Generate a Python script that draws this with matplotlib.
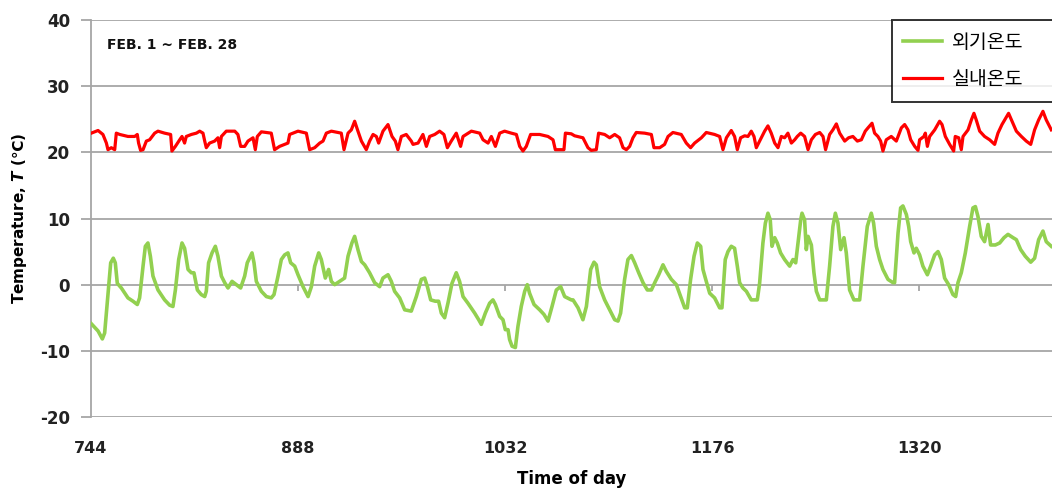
import matplotlib
matplotlib.use("Agg")
import matplotlib.pyplot as plt

# hours (Feb 1 .. Feb 28, hour of year) and temperatures
out_hour = [744.2, 748.9, 751.9, 753.5, 756.3, 757.7, 759.5, 760.9, 762.3, 765.1, 769.7, 773.2,
            776.2, 777.8, 780.2, 781.8, 783.6, 785.3, 787.1, 790.6, 795.2, 798.7, 801.0, 802.7,
            805.0, 807.3, 809.1, 811.5, 813.8, 815.6, 818.0, 820.7, 823.1, 824.2, 825.8, 828.2,
            830.5, 832.3, 834.7, 837.0, 839.3, 842.1, 845.1, 848.1, 850.9, 852.7, 856.0, 857.4,
            859.0, 862.5, 866.0, 869.4, 871.3, 874.1, 876.4, 878.7, 881.0, 882.9, 885.7, 888.0,
            891.5, 895.0, 897.3, 899.6, 902.4, 904.2, 907.0, 909.3, 911.2, 913.5, 917.0, 920.4,
            922.8, 925.5, 927.4, 929.7, 932.1, 934.4, 937.8, 941.3, 944.8, 947.1, 950.6, 952.9,
            955.2, 958.7, 962.2, 966.8, 970.3, 973.8, 976.1, 978.0, 980.3, 983.5, 985.8, 987.7,
            990.0, 992.3, 995.1, 998.1, 1000.4, 1002.8, 1006.2, 1010.9, 1013.7, 1015.5, 1018.3,
            1021.3, 1023.6, 1025.3, 1028.3, 1030.6, 1032.2, 1034.1, 1035.2, 1036.9, 1039.2,
            1041.0, 1043.3, 1045.7, 1047.5, 1049.1, 1052.2, 1056.1, 1059.1, 1061.9, 1064.7,
            1067.7, 1070.7, 1073.5, 1078.1, 1079.3, 1082.8, 1086.2, 1088.6, 1091.6, 1093.9,
            1095.5, 1097.8, 1101.3, 1104.8, 1108.3, 1110.6, 1112.4, 1115.2, 1117.5, 1119.9,
            1122.2, 1125.0, 1128.0, 1131.0, 1133.8, 1136.6, 1138.9, 1141.9, 1144.2, 1147.7,
            1151.2, 1154.2, 1157.0, 1158.8, 1161.1, 1163.5, 1165.8, 1168.1, 1169.7, 1172.0,
            1174.4, 1177.8, 1181.3, 1182.9, 1185.2, 1187.1, 1189.4, 1191.7, 1193.6, 1195.2,
            1197.5, 1199.9, 1203.3, 1207.5, 1209.1, 1211.4, 1213.1, 1214.9, 1216.5, 1217.7,
            1219.6, 1221.4, 1223.7, 1226.5, 1230.0, 1232.3, 1234.2, 1235.8, 1237.7, 1238.6,
            1240.4, 1241.6, 1242.8, 1245.1, 1246.9, 1248.6, 1250.9, 1255.5, 1257.8, 1260.1,
            1261.8, 1263.6, 1265.5, 1267.8, 1269.4, 1271.7, 1274.7, 1278.7, 1281.0, 1284.0,
            1286.8, 1288.4, 1290.3, 1292.6, 1294.9, 1298.4, 1301.9, 1303.0, 1305.4, 1307.2,
            1308.8, 1311.2, 1312.8, 1314.2, 1316.5, 1318.1, 1320.4, 1322.7, 1325.8, 1328.1,
            1330.9, 1333.2, 1335.5, 1337.8, 1340.6, 1343.6, 1345.5, 1347.1, 1349.4, 1352.2,
            1355.2, 1357.5, 1359.2, 1361.0, 1363.3, 1365.6, 1368.0, 1369.8, 1373.1, 1376.1,
            1379.1, 1381.9, 1385.4, 1387.7, 1390.7, 1393.9, 1397.7, 1400.4, 1403.2, 1406.2,
            1408.5, 1412.0]
out_temp = [-5.9, -7.0, -8.2, -7.3, -0.3, 3.3, 4.0, 3.3, 0.2, -0.5, -2.0, -2.5,
            -3.0, -2.0, 2.8, 5.8, 6.3, 4.3, 1.3, -0.8, -2.3, -3.1, -3.3, -0.8,
            3.8, 6.3, 5.5, 2.3, 1.8, 1.8, -0.8, -1.5, -1.8, -1.0, 3.3, 4.8,
            5.8, 4.3, 1.3, 0.3, -0.5, 0.5, 0.0, -0.5, 1.3, 3.3, 4.8, 3.3,
            0.5, -1.0, -1.8, -2.0, -1.5, 1.3, 3.8, 4.5, 4.8, 3.3, 2.8, 1.5,
            -0.3, -1.8, -0.3, 2.8, 4.8, 3.8, 1.0, 2.3, 0.5, 0.0, 0.5, 1.0,
            4.3, 6.3, 7.3, 5.3, 3.5, 3.0, 1.8, 0.3, -0.3, 1.0, 1.5, 0.5,
            -1.0, -2.0, -3.8, -4.0, -1.8, 0.8, 1.0, -0.3, -2.3, -2.5, -2.5, -4.3,
            -5.0, -2.8, 0.2, 1.8, 0.5, -1.8, -2.8, -4.3, -5.3, -6.0, -4.3,
            -2.8, -2.3, -3.0, -4.8, -5.3, -6.8, -6.8, -8.3, -9.3, -9.5,
            -6.3, -3.3, -1.0, 0.0, -1.3, -3.0, -3.8, -4.5, -5.5, -3.3,
            -0.8, -0.3, -1.8, -2.3, -2.3, -3.5, -5.3, -3.3, 2.3, 3.4,
            3.0, -0.3, -2.3, -3.8, -5.3, -5.5, -4.3, 0.8, 3.8, 4.4,
            3.3, 1.8, 0.3, -0.8, -0.8, 0.5, 1.5, 3.0, 2.0, 0.8,
            0.0, -1.8, -3.5, -3.5, 0.8, 4.3, 6.3, 5.8, 2.3, 0.5,
            -1.3, -2.0, -3.5, -3.5, 3.8, 5.0, 5.8, 5.5, 2.8, 0.3,
            -0.5, -1.0, -2.3, -2.3, 0.2, 6.3, 9.3, 10.8, 9.8, 5.8,
            7.1, 6.3, 4.8, 3.8, 2.8, 3.8, 3.3, 6.3, 9.8, 10.8,
            9.8, 5.3, 7.3, 6.0, 1.8, -1.0, -2.3, -2.3, 2.8, 8.8,
            10.8, 9.3, 5.3, 7.1, 4.8, -0.8, -2.3, -2.3, 2.8, 8.8,
            10.8, 9.3, 5.8, 3.8, 2.3, 0.8, 0.3, 0.3, 7.8, 11.6,
            11.9, 10.6, 8.8, 6.5, 4.8, 5.5, 4.5, 2.8, 1.5, 2.8,
            4.5, 5.0, 3.8, 1.0, 0.0, -1.5, -1.8, 0.3, 1.8, 4.8,
            8.8, 11.6, 11.8, 10.3, 7.3, 6.5, 9.1, 6.0, 6.0, 6.3,
            7.1, 7.6, 7.1, 6.8, 5.3, 4.3, 3.4, 4.0, 6.8, 8.1,
            6.5, 5.8]

in_hour = [744.2, 748.9, 752.3, 754.7, 755.8, 758.1, 760.5, 761.6, 764.0, 769.7, 774.4, 776.2,
           777.1, 778.5, 780.2, 782.5, 784.8, 788.3, 790.6, 795.2, 799.4, 800.3, 802.7, 805.7,
           807.3, 809.1, 810.3, 813.8, 817.3, 819.6, 821.9, 823.1, 824.2, 826.5, 830.0, 832.3,
           833.5, 834.7, 838.1, 844.0, 846.2, 848.1, 850.9, 853.2, 856.7, 858.3, 859.7, 862.5,
           869.4, 871.7, 875.2, 878.7, 881.0, 882.2, 888.0, 893.8, 896.1, 899.6, 903.1, 905.4,
           907.7, 911.2, 918.1, 920.0, 922.8, 925.1, 927.4, 929.7, 932.1, 935.5, 937.8, 940.2,
           942.5, 944.1, 947.1, 950.6, 953.4, 955.7, 957.5, 959.9, 963.3, 966.8, 968.0, 971.5,
           974.9, 977.3, 979.6, 983.1, 986.5, 989.5, 991.9, 994.6, 998.1, 1001.1, 1002.8,
           1008.6, 1014.4, 1016.7, 1020.2, 1022.5, 1025.3, 1028.3, 1031.7, 1036.4, 1039.9,
           1042.2, 1044.5, 1046.8, 1049.8, 1056.1, 1061.9, 1065.4, 1067.0, 1070.0, 1073.0,
           1074.0, 1078.1, 1080.4, 1086.2, 1089.7, 1092.0, 1095.5, 1097.1, 1101.3, 1104.8,
           1108.3, 1111.7, 1114.1, 1116.4, 1118.7, 1121.0, 1123.3, 1129.1, 1133.8, 1135.6,
           1139.6, 1143.0, 1145.4, 1148.8, 1154.6, 1158.1, 1161.1, 1163.9, 1168.6, 1172.0,
           1177.8, 1181.3, 1183.6, 1186.0, 1189.4, 1191.7, 1193.6, 1195.9, 1198.7, 1201.0,
           1203.3, 1205.2, 1206.8, 1210.3, 1212.6, 1214.9, 1217.2, 1219.6, 1221.9, 1224.2,
           1226.5, 1228.8, 1231.2, 1233.5, 1235.3, 1237.7, 1240.4, 1242.8, 1245.1, 1247.9,
           1250.9, 1253.2, 1255.0, 1257.8, 1260.1, 1262.5, 1264.8, 1268.3, 1271.0, 1274.0,
           1277.1, 1279.9, 1282.6, 1284.5, 1287.3, 1289.1, 1291.4, 1293.3, 1294.9, 1297.2,
           1300.7, 1304.2, 1307.7, 1310.0, 1312.3, 1314.2, 1317.0, 1319.3, 1320.4, 1323.4,
           1324.4, 1325.8, 1327.4, 1330.9, 1334.3, 1336.0, 1338.3, 1341.3, 1344.1, 1345.2,
           1347.6, 1349.4, 1350.6, 1354.1, 1356.4, 1358.2, 1359.8, 1362.2, 1365.6, 1369.1,
           1372.6, 1374.9, 1377.7, 1382.3, 1384.7, 1387.7, 1391.2, 1394.6, 1397.7, 1400.4,
           1403.2, 1406.2, 1408.5, 1412.0]
in_temp = [22.9, 23.3, 22.7, 21.4, 20.4, 20.7, 20.4, 22.9, 22.7, 22.4, 22.4, 22.7,
           21.4, 20.3, 20.4, 21.7, 21.9, 22.9, 23.2, 22.9, 22.7, 20.2, 20.9, 21.9,
           22.4, 21.4, 22.4, 22.7, 22.9, 23.2, 22.9, 21.7, 20.7, 21.4, 21.7, 22.2,
           20.7, 22.4, 23.2, 23.2, 22.7, 20.9, 20.9, 21.7, 22.2, 20.4, 22.4, 23.1,
           22.9, 20.4, 20.9, 21.2, 21.4, 22.7, 23.2, 22.9, 20.4, 20.7, 21.4, 21.7,
           22.9, 23.2, 22.9, 20.4, 22.9, 23.4, 24.7, 23.2, 21.7, 20.4, 21.7, 22.7,
           22.4, 21.4, 23.2, 24.2, 22.4, 21.7, 20.4, 22.4, 22.7, 21.7, 21.2, 21.4,
           22.7, 20.9, 22.4, 22.7, 23.2, 22.7, 20.7, 21.7, 22.9, 20.9, 22.4,
           23.2, 22.9, 21.9, 21.4, 22.4, 20.9, 22.9, 23.2, 22.9, 22.7,
           20.9, 20.2, 20.9, 22.7, 22.7, 22.4, 21.9, 20.4, 20.4, 20.4,
           22.9, 22.8, 22.5, 22.2, 20.7, 20.3, 20.4, 22.9, 22.7, 22.2,
           22.7, 22.2, 20.7, 20.4, 20.9, 22.2, 23.0, 22.9, 22.7, 20.7,
           20.7, 21.2, 22.4, 23.0, 22.7, 21.4, 20.7, 21.4, 22.2, 23.0,
           22.7, 22.4, 20.4, 22.2, 23.3, 22.4, 20.4, 22.2, 22.5, 22.4,
           23.2, 22.4, 20.7, 22.2, 23.2, 24.0, 22.9, 21.4, 20.7, 22.4,
           22.2, 22.9, 21.4, 21.9, 22.4, 22.9, 22.4, 20.4, 21.9, 22.7,
           23.0, 22.4, 20.4, 22.7, 23.4, 24.3, 22.9, 21.7, 22.2, 22.4,
           21.7, 21.9, 23.2, 23.7, 24.4, 22.9, 22.4, 21.7, 20.2, 21.9,
           22.4, 21.7, 23.7, 24.2, 23.4, 21.9, 20.9, 20.3, 21.9, 22.4,
           22.9, 20.9, 22.4, 23.4, 24.7, 24.2, 22.4, 21.2, 20.2, 22.4,
           22.2, 20.4, 22.4, 23.4, 24.9, 25.9, 24.9, 23.2, 22.4, 21.9,
           21.2, 22.9, 24.2, 25.9, 24.7, 23.2, 22.4, 21.7, 21.2, 23.4,
           24.9, 26.2, 24.9, 23.4]

x_ticks = [744, 888, 1032, 1176, 1320]
y_ticks = [-20, -10, 0, 10, 20, 30, 40]
labels = ["외기온도", "실내온도"]

plt.rcParams["font.family"] = ["DejaVu Sans", "Noto Sans CJK KR"]
plt.rcParams["axes.unicode_minus"] = False
plt.rcParams["mathtext.fontset"] = "custom"
plt.rcParams["mathtext.it"] = "DejaVu Sans:italic:bold"

fig = plt.figure(figsize=(10.52, 4.93), dpi=100)
ax = fig.add_axes([91 / 1052, 76 / 493, 961 / 1052, 397 / 493])

grid_c = "#a6a6a6"
ax.plot(out_hour, out_temp, color="#92d050", lw=2.6, label=labels[0], zorder=3)
ax.plot(in_hour, in_temp, color="#ff0000", lw=2.3, label=labels[1], zorder=3)

ax.set_xlim(744, 1412.5)
ax.set_ylim(-20, 40)
ax.set_yticks(y_ticks)
ax.set_xticks(x_ticks)
for y in y_ticks:
    ax.axhline(y, color=grid_c, lw=1.3, zorder=1)
# horizontal axis crosses at 0 with small tick marks
ax.vlines(x_ticks[1:], -0.9, 0, color=grid_c, lw=1.3, zorder=1)

for s in ["top", "right", "bottom"]:
    ax.spines[s].set_visible(False)
ax.spines["left"].set_color(grid_c)
ax.spines["left"].set_linewidth(1.3)
ax.tick_params(axis="y", direction="out", length=7, width=1.3, color=grid_c, pad=8,
               labelsize=12)
ax.tick_params(axis="x", length=0, pad=17, labelsize=11.5)
for t in ax.get_xticklabels() + ax.get_yticklabels():
    t.set_fontweight("bold")
    t.set_color("#222222")

ax.set_ylabel("Temperature, $T$ (℃)", fontsize=11, fontweight="bold", labelpad=8)
ax.set_xlabel("Time of day", fontsize=12, fontweight="bold", labelpad=10)

ax.text(0.017, 0.937, "FEB. 1 ~ FEB. 28", transform=ax.transAxes, fontsize=10,
        fontweight="bold", va="center", ha="left", color="#111111")

# legend box runs past the right edge of the picture, as in the original
leg = ax.legend(loc="upper left", bbox_to_anchor=(0.833, 0.79, 0.2, 0.21), mode="expand",
                borderaxespad=0, frameon=True, fancybox=False, edgecolor="black",
                handlelength=2.0, handletextpad=0.5, labelspacing=0.85, borderpad=0.6,
                prop={"family": ["Noto Sans CJK KR"], "size": 14})
leg.get_frame().set_linewidth(1.4)
leg.set_zorder(5)

fig.savefig("out.png", dpi=100)
